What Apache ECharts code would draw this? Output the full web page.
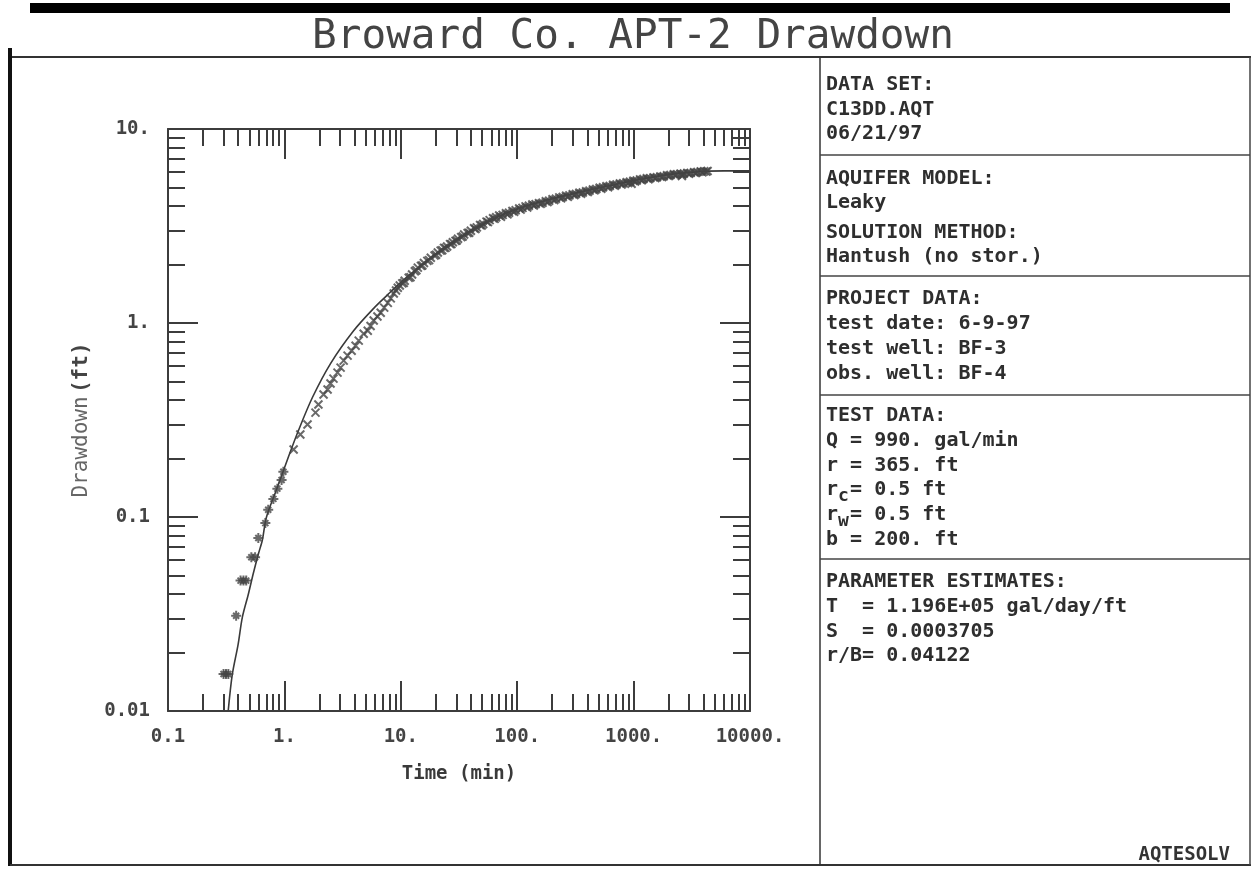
<!DOCTYPE html>
<html><head><meta charset="utf-8">
<script src="https://cdn.jsdelivr.net/npm/echarts@6/dist/echarts.min.js"></script>
<style>html,body{margin:0;padding:0;background:#fff;}#c{width:1255px;height:869px;}</style>
</head><body><div id="c"></div>
<script>
// ---- data ----
const obsTime = [
  0.300,0.315,0.330,0.385,0.420,0.445,0.470,0.52,0.56,0.597,0.686,0.726,0.804,0.87,0.946,0.98,
  1.20,1.37,1.58,1.85,1.96,2.17,2.35,2.49,2.64,2.86,3.04,3.23,3.49,3.78,4.09,4.35,4.80,5.20,5.50,5.85,6.30,6.72,7.20,7.73,8.20,8.70,9.10,9.42,9.80,
  10.3,10.8,11.7,12.5,13.2,14.0,14.9,15.8,16.9,18.1,19.5,20.8,22.0,23.5,25.0,26.5,28.0,29.5,31.0,33.0,35.0,37.5,40.0,42.6,45.0,48.0,51.0,54.5,58.0,62.0,66.0,70.0,75.0,80.0,85.0,91.0,97.0,
  104,111,118,126,135,144,154,165,176,188,201,215,230,246,263,281,300,320,342,366,391,418,447,478,511,546,584,624,667,713,762,815,871,931,960,995,
  1064,1137,1215,1299,1389,1485,1587,1697,1814,1939,2073,2216,2369,2532,2600,2707,2894,3094,3307,3535,3779,4040,4319,
  10.6,12.1,13.6,15.3,17.5,20.1,22.7,24.2,27.2,30.2,34.0,38.7,43.8,49.5,56.0,64.0,72.5,82.5,94.0,107,122,139,159,182,208,238,272,310,354,404,462,528,604,690,788,900,
  1028,1175,1343,1535,1755,2005,2290,2620,2990,3420,3905,4200
];
const obsDrawdown = [
  0.0155,0.0155,0.0155,0.031,0.047,0.047,0.047,0.062,0.062,0.078,0.093,0.109,0.124,0.140,0.155,0.171,
  0.223,0.266,0.300,0.345,0.380,0.428,0.454,0.488,0.517,0.555,0.589,0.640,0.679,0.720,0.764,0.811,0.881,0.912,0.965,1.03,1.08,1.13,1.20,1.27,1.34,1.42,1.47,1.52,1.56,
  1.60,1.65,1.71,1.78,1.85,1.93,1.97,2.04,2.09,2.17,2.23,2.31,2.36,2.44,2.48,2.55,2.61,2.65,2.72,2.77,2.86,2.91,2.99,3.08,3.11,3.20,3.24,3.33,3.39,3.47,3.51,3.58,3.61,3.68,3.70,3.78,3.81,
  3.89,3.92,3.99,4.02,4.08,4.10,4.15,4.17,4.24,4.27,4.34,4.37,4.44,4.46,4.53,4.55,4.61,4.63,4.69,4.71,4.78,4.81,4.88,4.91,4.98,5.01,5.07,5.09,5.16,5.18,5.24,5.26,5.32,5.35,5.22,5.41,
  5.43,5.50,5.52,5.57,5.58,5.63,5.64,5.69,5.71,5.77,5.79,5.85,5.85,5.89,5.72,5.90,5.94,5.94,5.99,6.00,6.05,6.06,6.08,
  1.61,1.72,1.87,1.98,2.11,2.25,2.37,2.44,2.55,2.66,2.79,2.92,3.05,3.18,3.31,3.44,3.53,3.63,3.74,3.84,3.94,4.03,4.11,4.20,4.30,4.39,4.47,4.56,4.64,4.73,4.83,4.92,5.01,5.10,5.18,5.27,
  5.36,5.44,5.51,5.58,5.65,5.72,5.79,5.83,5.88,5.93,5.99,6.03
];
const fitTime = [0.329,0.356,0.40,0.435,0.49,0.541,0.60,0.646,0.70,0.85,1.08,1.32,1.74,2.49,3.93,5.85,7.73,8.7,10,12,15,20,30,40,60,100,200,400,700,1000,2000,4000,6000,10000];
const fitDrawdown = [0.0100,0.0153,0.022,0.0304,0.040,0.0513,0.065,0.0759,0.0995,0.137,0.203,0.279,0.413,0.618,0.912,1.19,1.40,1.50,1.62,1.78,1.98,2.27,2.68,2.98,3.40,3.87,4.37,4.82,5.18,5.42,5.82,6.05,6.08,6.08];

const xMajor = [0.1,1,10,100,1000,10000];
const xMajorLabels = ['0.1','1.','10.','100.','1000.','10000.'];
const xMinor = [0.2,0.3,0.4,0.5,0.6,0.7,0.8,0.9,2,3,4,5,6,7,8,9,20,30,40,50,60,70,80,90,200,300,400,500,600,700,800,900,2000,3000,4000,5000,6000,7000,8000,9000];
const yMajor = [0.01,0.1,1,10];
const yMajorLabels = ['0.01','0.1','1.','10.'];
const yMinor = [0.02,0.03,0.04,0.05,0.06,0.07,0.08,0.09,0.2,0.3,0.4,0.5,0.6,0.7,0.8,0.9,2,3,4,5,6,7,8,9];

const panelLines = [
  ['DATA SET:',85],['C13DD.AQT',110],['06/21/97',134],
  ['AQUIFER MODEL:',179],['Leaky',203],['SOLUTION METHOD:',233],['Hantush (no stor.)',257],
  ['PROJECT DATA:',299],['test date: 6-9-97',324],['test well: BF-3',349],['obs. well: BF-4',374],
  ['TEST DATA:',416],['Q = 990. gal/min',441],['r = 365. ft',466],['r = 0.5 ft',490],['r = 0.5 ft',515],['b = 200. ft',540],
  ['PARAMETER ESTIMATES:',582],['T  = 1.196E+05 gal/day/ft',607],['S  = 0.0003705',632],['r/B= 0.04122',656]
];
const subscripts = [['c',490],['w',515]];
const panelDividers = [155,276,395,559];

// ---- chart ----
const INK = '#3c3c3c';
const MONO = '"DejaVu Sans Mono", "Liberation Mono", monospace';
const chart = echarts.init(document.getElementById('c'), null, {renderer:'canvas'});

function fmt(vals, labels){ return v => { for (let i=0;i<vals.length;i++){ if (Math.abs(Math.log10(v)-Math.log10(vals[i]))<1e-6) return labels[i]; } return ''; }; }

function axis(kind, position, ticks, len, withLine, withLabels){
  const a = {
    type:'log', logBase:10, position: position,
    min: kind==='x'?0.1:0.01, max: kind==='x'?10000:10,
    axisLine:{show:withLine, lineStyle:{color:INK,width:2}},
    axisTick:{show:true, inside:true, length:len, customValues:ticks, lineStyle:{color:INK,width:2}},
    axisLabel:{show:false},
    splitLine:{show:false}, minorTick:{show:false}, minorSplitLine:{show:false}
  };
  if (withLabels){
    a.axisLabel = {show:true, customValues:ticks, formatter: kind==='x'?fmt(xMajor,xMajorLabels):fmt(yMajor,yMajorLabels),
      color:'#444', fontFamily:MONO, fontWeight:'bold', fontSize:19, margin: kind==='x'?17:18,
      showMinLabel:true, showMaxLabel:true, hideOverlap:false};
  }
  return a;
}

const xAxes = [
  Object.assign(axis('x','bottom',xMajor,30,true,true),{name:'Time (min)', nameLocation:'middle', nameGap:54,
    nameTextStyle:{color:'#3a3a3a', fontFamily:MONO, fontWeight:'bold', fontSize:19}}),
  axis('x','bottom',xMinor,17,false,false),
  axis('x','top',xMajor,30,true,false),
  axis('x','top',xMinor,17,false,false)
];
const yAxes = [
  Object.assign(axis('y','left',yMajor,30,true,true),{name:'{a|Drawdown} {b|(ft)}', nameLocation:'middle', nameGap:76, nameRotate:90,
    nameTextStyle:{rich:{a:{color:'#666', fontFamily:MONO, fontSize:21}, b:{color:'#444', fontFamily:MONO, fontWeight:'bold', fontSize:21}}}}),
  axis('y','left',yMinor,17,false,false),
  axis('y','right',yMajor,30,true,false),
  axis('y','right',yMinor,17,false,false)
];

const cross = 'path://M0,0L10,10M10,0L0,10';
const star = 'path://M5,0L5,10M0,5L10,5M2,2L8,8M8,2L2,8';

const graphics = [
  {type:'rect', shape:{x:30,y:3,width:1200,height:10}, style:{fill:'#000'}},
  {type:'text', x:633, y:37, style:{text:'Broward Co. APT-2 Drawdown', font:'41px '+MONO, fill:'#444', align:'center', verticalAlign:'middle'}},
  {type:'line', shape:{x1:10,y1:57,x2:1251,y2:57}, style:{stroke:'#333',lineWidth:2}},
  {type:'line', shape:{x1:10,y1:48,x2:10,y2:866}, style:{stroke:'#111',lineWidth:4}},
  {type:'line', shape:{x1:10,y1:865,x2:1251,y2:865}, style:{stroke:'#333',lineWidth:2}},
  {type:'line', shape:{x1:1250,y1:57,x2:1250,y2:865}, style:{stroke:'#444',lineWidth:1.5}},
  {type:'line', shape:{x1:820,y1:57,x2:820,y2:865}, style:{stroke:'#333',lineWidth:1.5}},
  {type:'text', x:1230, y:855, style:{text:'AQTESOLV', font:'bold 19px '+MONO, fill:'#333', align:'right', verticalAlign:'middle'}}
];
panelDividers.forEach(y => graphics.push({type:'line', shape:{x1:820,y1:y,x2:1250,y2:y}, style:{stroke:'#444',lineWidth:1.5}}));
panelLines.forEach(([t,y]) => graphics.push({type:'text', x:826, y:y, style:{text:t, font:'bold 20px '+MONO, fill:'#2e2e2e', align:'left', verticalAlign:'middle'}}));
subscripts.forEach(([t,y]) => graphics.push({type:'text', x:838, y:y+6, style:{text:t, font:'bold 18px '+MONO, fill:'#2e2e2e', align:'left', verticalAlign:'middle'}}));

chart.setOption({
  animation:false,
  backgroundColor:'#fff',
  grid:{left:168, right:505, top:129, bottom:158, containLabel:false},
  xAxis:xAxes,
  yAxis:yAxes,
  graphic:graphics,
  series:[
    {type:'line', xAxisIndex:0, yAxisIndex:0, data: fitTime.map((t,i)=>[t,fitDrawdown[i]]), showSymbol:false, smooth:0.3,
      lineStyle:{color:'#3a3a3a', width:1.6}, z:3},
    {type:'scatter', xAxisIndex:0, yAxisIndex:0, data: obsTime.map((t,i)=>[t,obsDrawdown[i]]),
      symbol: v => v[0] < 1.1 ? star : cross,
      symbolSize: v => v[0] < 1.1 ? 10 : 8,
      itemStyle:{color:'#444', borderColor:'#444', borderWidth:2}, z:4}
  ]
});
</script></body></html>
